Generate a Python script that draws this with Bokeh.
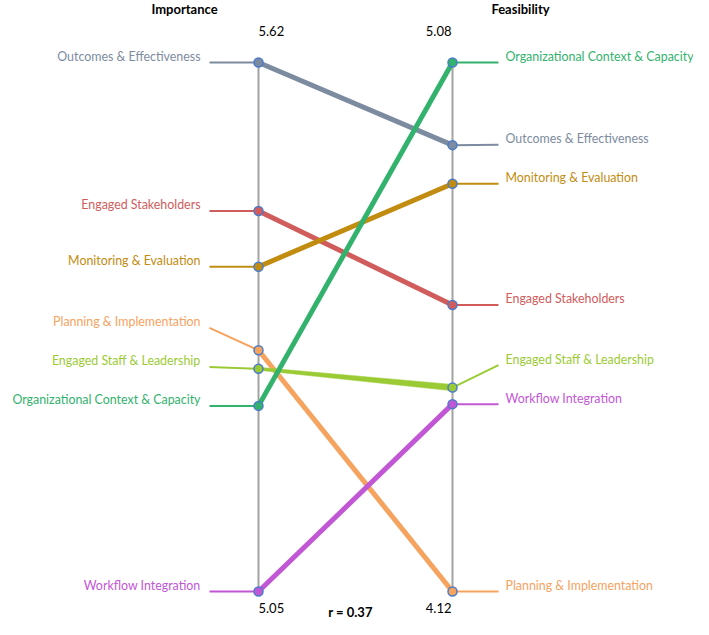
import numpy as np
from bokeh.plotting import figure
from bokeh.models import Range1d
from bokeh.embed import file_html
from bokeh.resources import INLINE
from bokeh.core.properties import value

# ---------------- data ----------------
categories = [
    "Outcomes & Effectiveness",
    "Engaged Stakeholders",
    "Monitoring & Evaluation",
    "Planning & Implementation",
    "Engaged Staff & Leadership",
    "Organizational Context & Capacity",
    "Workflow Integration",
]
importance = [5.62, 5.46, 5.40, 5.31, 5.29, 5.25, 5.05]
feasibility = [4.93, 4.64, 4.86, 4.12, 4.49, 5.08, 4.46]
left_title = "Importance"
right_title = "Feasibility"

# ---------------- style ----------------
colors = ["#7D8BA0", "#D05C5C", "#C28C10", "#F5A35F", "#9BCB34", "#33B26E", "#C257D6"]
FONT = value("Lato")
LABEL_SIZE = "12.4px"
MARKER_EDGE = "#4A7CC9"
AXIS_GRAY = "#A3A3A3"

# layout (picture pixels)
W, H = 693, 619
X_L, X_R = 258, 452
Y_TOP, Y_BOT = 62, 591          # picture y of max / min of each axis
UNIT = Y_BOT - Y_TOP


def py(pic_y):
    """picture pixel y -> normalised axis units"""
    return (Y_BOT - pic_y) / UNIT


imp_lo, imp_hi = min(importance), max(importance)
fea_lo, fea_hi = min(feasibility), max(feasibility)
t_imp = [(v - imp_lo) / (imp_hi - imp_lo) for v in importance]
t_fea = [(v - fea_lo) / (fea_hi - fea_lo) for v in feasibility]


def repel(ts, gap):
    order = sorted(range(len(ts)), key=lambda i: ts[i])
    out = [0.0] * len(ts)
    prev = None
    for i in order:
        lt = ts[i] if prev is None else max(ts[i], prev + gap)
        out[i] = lt
        prev = lt
    return out


GAP = 39 / UNIT
lab_imp = repel(t_imp, GAP)
lab_fea = repel(t_fea, GAP)
TXT_UP = 6 / UNIT

r = np.corrcoef(importance, feasibility)[0, 1]

p = figure(
    width=W, height=H,
    x_range=Range1d(0, W),
    y_range=Range1d(py(H), py(0)),
    output_backend="svg", toolbar_location=None,
    x_axis_location=None, y_axis_location=None,
    min_border=0, outline_line_color=None,
)
p.xgrid.visible = False
p.ygrid.visible = False

n = len(categories)
# vertical axes
p.segment(x0=[X_L, X_R], y0=[0, 0], x1=[X_L, X_R], y1=[1, 1],
          line_color=AXIS_GRAY, line_width=2)

# connectors to labels
p.segment(x0=[209] * n, y0=lab_imp, x1=[X_L] * n, y1=t_imp,
          line_color=colors, line_width=2)
p.segment(x0=[X_R] * n, y0=t_fea, x1=[498] * n, y1=lab_fea,
          line_color=colors, line_width=2)

# slope lines
for i in range(n):
    if categories[i] == "Engaged Staff & Leadership":
        wl, wr = 1.5 / UNIT, 3.2 / UNIT
        p.patch(x=[X_L, X_R, X_R, X_L],
                y=[t_imp[i] + wl, t_fea[i] + wr, t_fea[i] - wr, t_imp[i] - wl],
                fill_color=colors[i], line_color=colors[i], line_width=0.5)
    else:
        p.line(x=[X_L, X_R], y=[t_imp[i], t_fea[i]], line_color=colors[i],
               line_width=5)

# markers
p.scatter(x=[X_L] * n, y=t_imp, size=9, fill_color=colors,
          line_color=MARKER_EDGE, line_width=1.5)
p.scatter(x=[X_R] * n, y=t_fea, size=9, fill_color=colors,
          line_color=MARKER_EDGE, line_width=1.5)

# category labels
p.text(x=[200] * n, y=[v + TXT_UP for v in lab_imp], text=categories,
       text_color=colors, text_font=FONT, text_font_size=LABEL_SIZE,
       text_align="right", text_baseline="middle")
p.text(x=[505] * n, y=[v + TXT_UP for v in lab_fea], text=categories,
       text_color=colors, text_font=FONT, text_font_size=LABEL_SIZE,
       text_align="left", text_baseline="middle")

# titles
p.text(x=[184, 520], y=[py(8), py(8)], text=[left_title, right_title],
       text_color="black", text_font=FONT, text_font_size="13px",
       text_font_style="bold", text_align="center", text_baseline="middle")

# axis extreme values
p.text(x=[X_L, X_L], y=[py(30), py(607)],
       text=[f"{imp_hi:.2f}", f"{imp_lo:.2f}"],
       text_color="black", text_font=FONT, text_font_size="13px",
       text_align="left", text_baseline="middle")
p.text(x=[X_R - 1, X_R - 1], y=[py(30), py(607)],
       text=[f"{fea_hi:.2f}", f"{fea_lo:.2f}"],
       text_color="black", text_font=FONT, text_font_size="13px",
       text_align="right", text_baseline="middle")

# correlation
p.text(x=[350], y=[py(611)], text=[f"r = {r:.2f}"],
       text_color="black", text_font=FONT, text_font_size="13px",
       text_font_style="bold", text_align="center", text_baseline="middle")

open("out.html", "w").write(file_html(p, INLINE))
